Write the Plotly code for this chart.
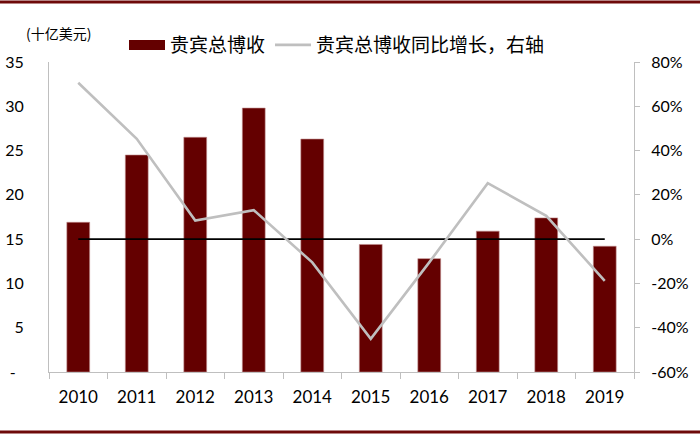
import plotly.graph_objects as go

years = ["2010", "2011", "2012", "2013", "2014", "2015", "2016", "2017", "2018", "2019"]
vip_revenue = [16.9, 24.5, 26.5, 29.8, 26.3, 14.4, 12.8, 15.9, 17.4, 14.2]
vip_yoy = [70.6, 45.3, 8.4, 13.1, -10.5, -45.0, -10.5, 25.3, 10.5, -18.8]
zero_line = [0] * len(years)

bar_name = "贵宾总博收"
line_name = "贵宾总博收同比增长，右轴"
unit_label = "(十亿美元)"

W, H = 700, 436
L, R, T, B = 49, 634, 62, 372.5
BAR_COLOR = "#640000"

def px(x):
    return (x - L) / (R - L)

def py(y):
    return (B - y) / (B - T)

fig = go.Figure()
fig.add_trace(go.Bar(
    x=years, y=vip_revenue, name=bar_name, showlegend=False, legendgroup="bar",
    marker=dict(color=BAR_COLOR, line=dict(color="#c08a8a", width=0.6)),
    width=0.39, yaxis="y",
))
# legend entry for the bars, drawn as a wide swatch like the original
fig.add_trace(go.Scatter(
    x=[None], y=[None], name=bar_name, mode="lines", legendgroup="bar",
    line=dict(color=BAR_COLOR, width=10), yaxis="y",
))
fig.add_trace(go.Scatter(
    x=years, y=zero_line, mode="lines", showlegend=False,
    line=dict(color="#000000", width=1.6), yaxis="y2", hoverinfo="skip",
))
fig.add_trace(go.Scatter(
    x=years, y=vip_yoy, name=line_name, mode="lines",
    line=dict(color="#BFBFBF", width=2.6), yaxis="y2",
))

tickfont = dict(family="Lato, Open Sans, sans-serif", size=16, color="#000000")

fig.update_layout(
    width=W, height=H,
    margin=dict(l=L, r=W - R, t=T, b=H - B, pad=0, autoexpand=False),
    paper_bgcolor="white", plot_bgcolor="white",
    showlegend=True,
    legend=dict(
        orientation="h", x=px(124), y=py(45), xanchor="left", yanchor="middle",
        font=dict(family="Noto Sans CJK SC", size=19, color="#000000"),
        itemwidth=36, tracegroupgap=0, bgcolor="rgba(0,0,0,0)",
    ),
    xaxis=dict(
        type="category", showline=True, linecolor="#BFBFBF", linewidth=1,
        ticks="outside", ticklen=6, tickcolor="#BFBFBF", tickson="boundaries",
        tickfont=dict(tickfont, size=17), showgrid=False, zeroline=False,
        ticklabelstandoff=10,
    ),
    yaxis=dict(
        range=[0, 35], tickvals=[0, 5, 10, 15, 20, 25, 30, 35],
        ticktext=["-\u00a0\u00a0", "5", "10", "15", "20", "25", "30", "35"],
        showline=True, linecolor="#BFBFBF", linewidth=1, ticks="",
        tickfont=tickfont, showgrid=False, zeroline=False, ticklabelstandoff=21,
    ),
    yaxis2=dict(
        range=[-60, 80], tickvals=[-60, -40, -20, 0, 20, 40, 60, 80],
        ticktext=["-60%", "-40%", "-20%", "0%", "20%", "40%", "60%", "80%"],
        overlaying="y", side="right", showline=True, linecolor="#BFBFBF",
        linewidth=1, ticks="outside", ticklen=5, tickcolor="#BFBFBF",
        tickfont=tickfont, showgrid=False, zeroline=False, ticklabelstandoff=8,
    ),
    annotations=[dict(
        text=unit_label, xref="paper", yref="paper", x=px(24), y=py(33),
        xanchor="left", yanchor="middle", showarrow=False,
        font=dict(family="Noto Sans CJK SC", size=14, color="#000000"),
    )],
    shapes=[
        dict(type="line", xref="paper", yref="paper", x0=px(0), x1=px(700),
             y0=py(2), y1=py(2), line=dict(color="#6e0a0a", width=3)),
        dict(type="line", xref="paper", yref="paper", x0=px(0), x1=px(700),
             y0=py(432.5), y1=py(432.5), line=dict(color="#6e0a0a", width=3)),
    ],
)

fig.write_html(
    "out.html",
    config={"displayModeBar": False},
    post_script="document.body.style.margin='0';document.body.style.overflow='hidden';",
)
